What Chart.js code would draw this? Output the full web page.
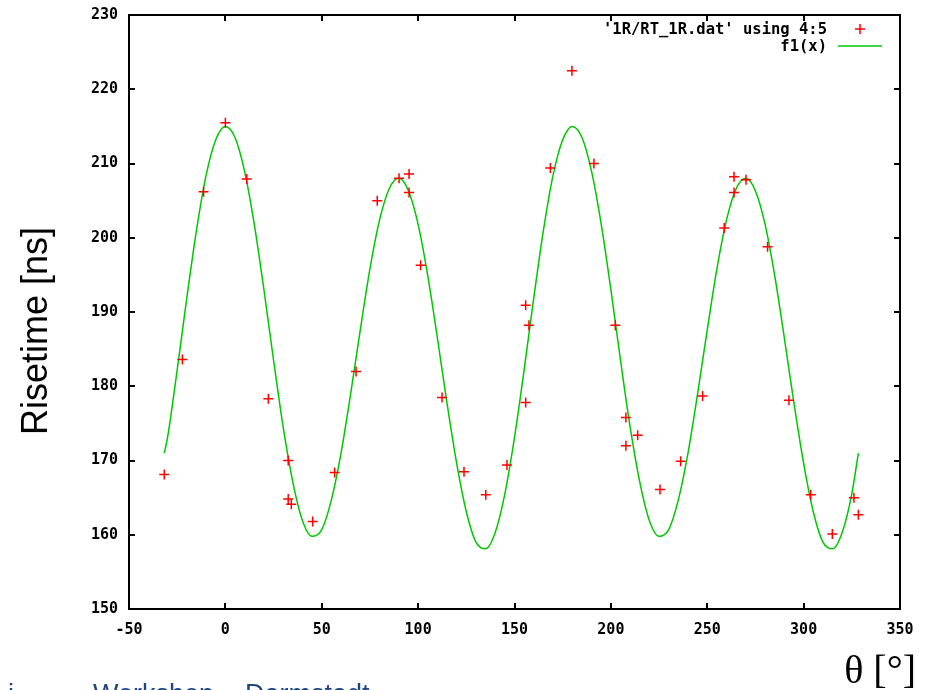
<!DOCTYPE html>
<html>
<head>
<meta charset="utf-8">
<script src="https://cdn.jsdelivr.net/npm/chart.js@4.4.0/dist/chart.umd.min.js"></script>
<style>
html, body { margin: 0; padding: 0; background: #fff; overflow: hidden; }
#wrap { position: relative; width: 932px; height: 690px; overflow: hidden; }
#plot { position: absolute; left: 0; top: 0; }
.ytitle {
    position: absolute; left: 35px; top: 331px;
    transform: translate(-50%, -50%) rotate(-90deg);
    font-family: "Liberation Sans", Arial, sans-serif; font-size: 36px;
    white-space: nowrap; color: #000;
}
.xtitle {
    position: absolute; right: 16px; top: 650px;
    font-family: "Liberation Serif", "Times New Roman", serif; font-size: 40px;
    line-height: 1; white-space: nowrap; color: #000;
}
.footer {
    position: absolute; top: 681px;
    font-family: "Liberation Sans", Arial, sans-serif; font-size: 27px;
    line-height: 1; white-space: nowrap; color: #1f4580;
}
</style>
</head>
<body>
<div id="wrap">
    <canvas id="plot" width="932" height="690"></canvas>
    <div class="ytitle">Risetime [ns]</div>
    <div class="xtitle">θ [°]</div>
    <div class="footer" style="left:8px">i</div>
    <div class="footer" style="left:93px">Workshop</div>
    <div class="footer" style="left:245px">Darmstadt</div>
</div>
<script>
// measured points, '1R/RT_1R.dat' columns 4:5
const thetaPts = [-31.7, -22.3, -11.3, 0, 11.1, 22.3, 32.6, 32.6, 34.2, 45.3,
                  56.7, 67.8, 78.8, 90.1, 95.3, 95.3, 101.3, 112.4, 123.8, 135.1,
                  146.1, 155.8, 155.8, 157.5, 168.6, 179.8, 191.2, 202.3, 207.8, 207.8,
                  213.9, 225.5, 236.2, 247.6, 258.8, 263.9, 263.9, 270.1, 281.3, 292.4,
                  303.7, 314.9, 326.1, 328.4];
const risePts  = [168.1, 183.6, 206.2, 215.5, 207.9, 178.3, 170.0, 164.8, 164.1, 161.8,
                  168.4, 182.0, 205.0, 208.0, 208.6, 206.1, 196.3, 178.5, 168.5, 165.4,
                  169.4, 190.9, 177.8, 188.2, 209.4, 222.5, 210.0, 188.2, 175.8, 172.0,
                  173.4, 166.1, 169.9, 178.7, 201.3, 208.2, 206.1, 207.8, 198.8, 178.1,
                  165.4, 160.1, 165.0, 162.7];

// fit curve f1(x)
const fitTheta = [-31.7, -30, -25, -20, -15, -10, -5, 0, 5, 10, 15, 20, 25, 30, 35, 40, 45,
                  50, 55, 60, 65, 70, 75, 80, 85, 90, 95, 100, 105, 110, 115, 120, 125,
                  130, 135, 140, 145, 150, 155, 160, 165, 170, 175, 180, 185, 190, 195,
                  200, 205, 210, 215, 220, 225, 230, 235, 240, 245, 250, 255, 260, 265,
                  270, 275, 280, 285, 290, 295, 300, 305, 310, 315, 320, 325, 328.4];
const fitRise  = [171.0, 173.1, 182.2, 191.9, 201.0, 208.4, 213.2, 215.0, 213.5, 208.9,
                  201.8, 193.0, 183.5, 174.5, 167.1, 161.9, 159.8, 160.7, 164.7, 171.0,
                  179.0, 187.6, 195.8, 202.4, 206.6, 208.0, 206.3, 201.8, 194.9, 186.5,
                  177.7, 169.6, 163.1, 159.0, 158.1, 160.3, 165.5, 173.1, 182.2, 191.9,
                  201.0, 208.4, 213.2, 215.0, 213.5, 208.9, 201.8, 193.0, 183.5, 174.5,
                  167.1, 161.9, 159.8, 160.7, 164.7, 171.0, 179.0, 187.6, 195.8, 202.4,
                  206.6, 208.0, 206.3, 201.8, 194.9, 186.5, 177.7, 169.6, 163.1, 159.0,
                  158.1, 160.3, 165.5, 171.0];

const xTickValues = [-50, 0, 50, 100, 150, 200, 250, 300, 350];
const yTickValues = [150, 160, 170, 180, 190, 200, 210, 220, 230];
const legendLabels = ["'1R/RT_1R.dat' using 4:5", "f1(x)"];

const monoFont = { family: "'DejaVu Sans Mono', monospace", size: 15, weight: 'bold' };

/* border and inward ticks on all four sides, gnuplot style */
const framePlugin = {
    id: 'frame',
    afterDatasetsDraw (chart) {
        const c = chart.ctx;
        const a = chart.chartArea;
        const xs = chart.scales.x, ys = chart.scales.y;
        const tl = 6;
        c.save();
        c.strokeStyle = '#000';
        c.lineWidth = 2;
        c.beginPath();
        for (const v of xTickValues) {
            const px = Math.round(xs.getPixelForValue(v));
            c.moveTo(px, a.bottom); c.lineTo(px, a.bottom - tl);
            c.moveTo(px, a.top);    c.lineTo(px, a.top + tl);
        }
        for (const v of yTickValues) {
            const py = Math.round(ys.getPixelForValue(v));
            c.moveTo(a.left, py);  c.lineTo(a.left + tl, py);
            c.moveTo(a.right, py); c.lineTo(a.right - tl, py);
        }
        c.stroke();
        c.strokeRect(a.left, a.top, a.right - a.left, a.bottom - a.top);
        c.restore();
    }
};

/* key in the top right corner: text right aligned, sample after it */
const keyPlugin = {
    id: 'key',
    afterDraw (chart) {
        const c = chart.ctx;
        const textRight = 827;
        const rows = [30, 47];
        c.save();
        c.font = 'bold 15.5px "DejaVu Sans Mono", monospace';
        c.fillStyle = '#000';
        c.textAlign = 'right';
        c.textBaseline = 'middle';
        chart.data.datasets.forEach((ds, i) => {
            c.fillText(ds.label, textRight, rows[i]);
        });
        // point sample
        c.strokeStyle = '#ff0000';
        c.lineWidth = 1.5;
        c.beginPath();
        c.moveTo(855, rows[0] - 1); c.lineTo(865, rows[0] - 1);
        c.moveTo(860, rows[0] - 6); c.lineTo(860, rows[0] + 4);
        c.stroke();
        // line sample
        c.strokeStyle = '#00c800';
        c.beginPath();
        c.moveTo(838, rows[1] - 1); c.lineTo(882, rows[1] - 1);
        c.stroke();
        c.restore();
    }
};

const ctx = document.getElementById('plot').getContext('2d');
new Chart(ctx, {
    type: 'scatter',
    data: {
        datasets: [
            {
                label: legendLabels[0],
                data: thetaPts.map((t, i) => ({ x: t, y: risePts[i] })),
                showLine: false,
                pointStyle: 'cross',
                pointRadius: 5,
                borderColor: '#ff0000',
                backgroundColor: '#ff0000',
                pointBorderWidth: 1.5,
                order: 0
            },
            {
                label: legendLabels[1],
                data: fitTheta.map((t, i) => ({ x: t, y: fitRise[i] })),
                showLine: true,
                pointRadius: 0,
                borderColor: '#00c800',
                borderWidth: 1.5,
                cubicInterpolationMode: 'monotone',
                order: 1
            }
        ]
    },
    options: {
        responsive: false,
        animation: false,
        layout: { padding: { left: 0, top: 15, right: 32, bottom: 0 } },
        plugins: {
            legend: { display: false },
            tooltip: { enabled: false }
        },
        scales: {
            x: {
                type: 'linear',
                min: -50,
                max: 350,
                afterBuildTicks: (s) => { s.ticks = xTickValues.map(v => ({ value: v })); },
                afterFit: (s) => { s.height = 81; },
                grid: { display: false },
                border: { display: false },
                ticks: { font: monoFont, color: '#000', padding: 4, maxRotation: 0, autoSkip: false }
            },
            y: {
                type: 'linear',
                min: 150,
                max: 230,
                afterBuildTicks: (s) => { s.ticks = yTickValues.map(v => ({ value: v })); },
                afterFit: (s) => { s.width = 129; s.paddingTop = 0; s.paddingBottom = 0; },
                grid: { display: false },
                border: { display: false },
                ticks: { font: monoFont, color: '#000', padding: 3, autoSkip: false }
            }
        }
    },
    plugins: [framePlugin, keyPlugin]
});
</script>
</body>
</html>
